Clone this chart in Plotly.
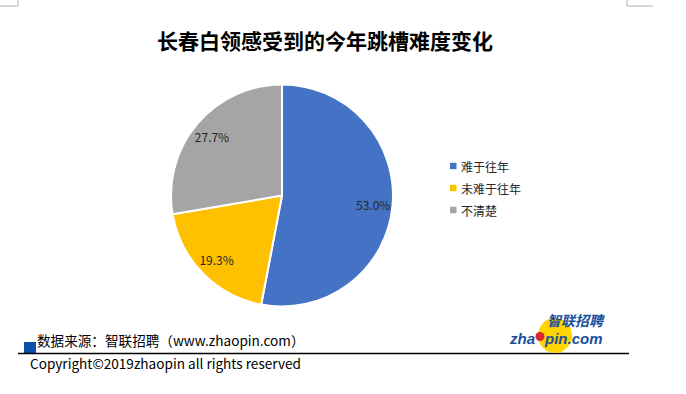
import plotly.graph_objects as go

W, H = 686, 394

categories = ["难于往年", "未难于往年", "不清楚"]
values = [53.0, 19.3, 27.7]
colors = ["#4472C4", "#FFC000", "#A5A5A5"]

title_text = "长春白领感受到的今年跳槽难度变化"
source_text = "数据来源：智联招聘（www.zhaopin.com）"
copyright_text = "Copyright©2019zhaopin all rights reserved"

FONT = "Noto Sans CJK SC, Microsoft YaHei, sans-serif"


def px(x):
    return x / W


def py(y):
    return 1 - y / H


cx, cy, r = 282, 195.5, 111
pie_domain = dict(x=[px(cx - r), px(cx + r)], y=[py(cy + r), py(cy - r)])

fig = go.Figure()
# filled slices
fig.add_trace(go.Pie(
    labels=categories,
    values=values,
    sort=False,
    direction="clockwise",
    rotation=0,
    marker=dict(colors=colors, line=dict(color="white", width=2)),
    textinfo="none",
    domain=pie_domain,
    showlegend=False,
    hoverinfo="label+value",
))
# transparent ring carrying the data labels (places them toward the outer part of each slice)
fig.add_trace(go.Pie(
    labels=categories,
    values=values,
    sort=False,
    direction="clockwise",
    rotation=0,
    hole=0.65,
    marker=dict(colors=["rgba(0,0,0,0)"] * len(values), line=dict(width=0)),
    texttemplate="%{value:.1f}%",
    textposition="inside",
    insidetextorientation="horizontal",
    textfont=dict(family=FONT, size=12, color="#262626"),
    domain=pie_domain,
    showlegend=False,
    hoverinfo="skip",
))

shapes = []
annotations = []

# title
annotations.append(dict(x=px(325), y=py(40), xref="paper", yref="paper",
                        text="<b>" + title_text + "</b>", showarrow=False,
                        xanchor="center", yanchor="middle",
                        font=dict(family=FONT, size=21, color="#000000")))

# custom legend
leg_y = [166, 188, 210]
for name, col, ly in zip(categories, colors, leg_y):
    shapes.append(dict(type="rect", xref="paper", yref="paper",
                       x0=px(450), x1=px(456.5), y0=py(ly + 3.2), y1=py(ly - 3.2),
                       fillcolor=col, line=dict(width=0)))
    annotations.append(dict(x=px(459), y=py(ly), xref="paper", yref="paper",
                            text=name, showarrow=False, xanchor="left", yanchor="middle",
                            font=dict(family=FONT, size=12, color="#262626")))

# corner marks
shapes.append(dict(type="line", xref="paper", yref="paper", x0=px(0), x1=px(18), y0=py(6), y1=py(6),
                   line=dict(color="#B0B0B0", width=1)))
shapes.append(dict(type="line", xref="paper", yref="paper", x0=px(18), x1=px(18), y0=py(0), y1=py(6),
                   line=dict(color="#B0B0B0", width=1)))
shapes.append(dict(type="line", xref="paper", yref="paper", x0=px(627), x1=px(653), y0=py(6), y1=py(6),
                   line=dict(color="#B0B0B0", width=1)))
shapes.append(dict(type="line", xref="paper", yref="paper", x0=px(627), x1=px(627), y0=py(0), y1=py(6),
                   line=dict(color="#B0B0B0", width=1)))

# footer
shapes.append(dict(type="rect", xref="paper", yref="paper", x0=px(24), x1=px(36), y0=py(353), y1=py(342),
                   fillcolor="#0A4FA8", line=dict(width=0)))
shapes.append(dict(type="line", xref="paper", yref="paper", x0=px(18), x1=px(629), y0=py(353.5), y1=py(353.5),
                   line=dict(color="#000000", width=1.3)))
annotations.append(dict(x=px(35), y=py(340), xref="paper", yref="paper", text=source_text,
                        showarrow=False, xanchor="left", yanchor="middle",
                        font=dict(family=FONT, size=13.6, color="#000000")))
annotations.append(dict(x=px(28), y=py(363), xref="paper", yref="paper", text=copyright_text,
                        showarrow=False, xanchor="left", yanchor="middle",
                        font=dict(family=FONT, size=13.6, color="#000000")))

# logo
shapes.append(dict(type="circle", xref="paper", yref="paper", x0=px(538), x1=px(572), y0=py(353), y1=py(318),
                   fillcolor="#FFD400", line=dict(width=0)))
shapes.append(dict(type="circle", xref="paper", yref="paper", x0=px(535.5), x1=px(544.5), y0=py(341), y1=py(332),
                   fillcolor="#D8262E", line=dict(width=0)))
annotations.append(dict(x=px(576), y=py(320), xref="paper", yref="paper", text="<b><i>智联招聘</i></b>",
                        showarrow=False, xanchor="center", yanchor="middle",
                        font=dict(family=FONT, size=14, color="#1B4F9C")))
annotations.append(dict(x=px(537), y=py(338), xref="paper", yref="paper", text="<b><i>zha</i></b>",
                        showarrow=False, xanchor="right", yanchor="middle",
                        font=dict(family="Liberation Sans, Arial", size=15, color="#1B4F9C")))
annotations.append(dict(x=px(542), y=py(338), xref="paper", yref="paper", text="<b><i>pin.com</i></b>",
                        showarrow=False, xanchor="left", yanchor="middle",
                        font=dict(family="Liberation Sans, Arial", size=15, color="#1B4F9C")))

fig.update_layout(
    width=W, height=H,
    margin=dict(l=0, r=0, t=0, b=0),
    paper_bgcolor="white",
    plot_bgcolor="white",
    shapes=shapes,
    annotations=annotations,
)

fig.write_html("out.html", config={"displayModeBar": False},
               post_script="document.body.style.margin='0';document.body.style.overflow='hidden';")
